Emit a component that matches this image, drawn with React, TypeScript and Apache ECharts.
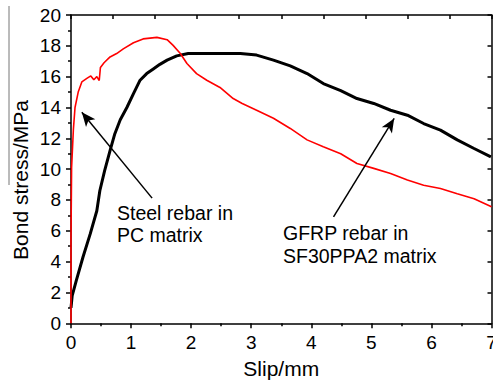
import React, { useEffect, useRef } from "react";
import * as echarts from "echarts";

const xTicks = [0, 1, 2, 3, 4, 5, 6, 7];
const yTicks = [0, 2, 4, 6, 8, 10, 12, 14, 16, 18, 20];

const steelSlip = [0, 0, 0.01, 0.04, 0.067, 0.12, 0.18, 0.27, 0.33, 0.38, 0.43, 0.47, 0.49, 0.55, 0.65, 0.76, 0.87, 1.04, 1.2, 1.43, 1.6, 1.7, 1.82, 1.93, 2.09, 2.26, 2.48, 2.7, 2.85, 3.09, 3.37, 3.65, 3.93, 4.2, 4.49, 4.76, 5.04, 5.32, 5.6, 5.87, 6.15, 6.43, 6.71, 7.0];
const steelStress = [0, 5.5, 10.1, 12.6, 14.0, 15.0, 15.66, 15.9, 16.05, 15.8, 16.0, 15.75, 16.6, 16.9, 17.28, 17.5, 17.8, 18.2, 18.45, 18.55, 18.4, 18.03, 17.5, 16.85, 16.2, 15.77, 15.3, 14.58, 14.26, 13.82, 13.3, 12.64, 11.9, 11.45, 11.0, 10.37, 10.05, 9.72, 9.29, 8.96, 8.75, 8.4, 8.08, 7.56];

const gfrpSlip = [0, 0.02, 0.09, 0.2, 0.32, 0.43, 0.48, 0.56, 0.65, 0.73, 0.82, 0.93, 1.04, 1.15, 1.26, 1.37, 1.48, 1.6, 1.76, 1.95, 2.15, 2.5, 2.82, 3.09, 3.37, 3.65, 3.93, 4.2, 4.49, 4.76, 5.04, 5.32, 5.6, 5.87, 6.15, 6.43, 6.71, 6.99];
const gfrpStress = [1.0, 1.8, 2.8, 4.3, 5.8, 7.3, 8.6, 9.9, 11.2, 12.3, 13.2, 14.0, 14.9, 15.77, 16.2, 16.5, 16.8, 17.07, 17.35, 17.5, 17.5, 17.5, 17.5, 17.4, 17.07, 16.7, 16.2, 15.55, 15.1, 14.58, 14.26, 13.82, 13.5, 12.96, 12.53, 11.9, 11.34, 10.8];

const steelLabel = "Steel rebar in\nPC matrix";
const gfrpLabel = "GFRP rebar in\nSF30PPA2 matrix";
const steelArrow = [[1.35, 8.12], [0.18, 13.69]];
const gfrpArrow = [[4.37, 6.91], [5.38, 13.29]];

const FONT = "'Liberation Sans', Arial, sans-serif";

export default function App() {
  const ref = useRef<HTMLDivElement>(null);
  useEffect(() => {
    if (!ref.current) return;
    const chart = echarts.init(ref.current, null, { renderer: "svg" });
    const steel = steelSlip.map((x, i) => [x, steelStress[i]]);
    const gfrp = gfrpSlip.map((x, i) => [x, gfrpStress[i]]);
    const axisLine = { show: true, onZero: false, lineStyle: { color: "#000", width: 1.5 } };
    chart.setOption({
      animation: false,
      backgroundColor: "#fff",
      grid: { left: 71, right: 1.5, top: 15, bottom: 62.7, containLabel: false, outerBoundsMode: "none" },
      xAxis: [
        {
          type: "value",
          position: "bottom",
          min: 0,
          max: 7,
          interval: 1,
          axisLine,
          axisTick: { show: true, inside: false, length: 5, lineStyle: { color: "#000", width: 1.5 } },
          minorTick: { show: true, splitNumber: 2, length: 3, lineStyle: { color: "#000", width: 1.5 } },
          splitLine: { show: false },
          axisLabel: {
            color: "#000",
            fontSize: 19,
            fontFamily: FONT,
            margin: 10,
            alignMinLabel: "center",
            alignMaxLabel: "center",
            formatter: (v: number) => (xTicks.includes(v) ? String(v) : ""),
          },
          name: "Slip/mm",
          nameLocation: "middle",
          nameGap: 35,
          nameTextStyle: { color: "#000", fontSize: 21, fontFamily: FONT },
        },
        {
          type: "value",
          position: "top",
          min: 0,
          max: 10,
          interval: 1,
          axisLine,
          axisTick: { show: true, inside: true, length: 4, lineStyle: { color: "#000", width: 1.5 } },
          axisLabel: { show: false },
          splitLine: { show: false },
        },
      ],
      yAxis: [
        {
          type: "value",
          position: "left",
          min: 0,
          max: 20,
          interval: 2,
          axisLine,
          axisTick: { show: true, inside: false, length: 5, lineStyle: { color: "#000", width: 1.5 } },
          minorTick: { show: true, splitNumber: 2, length: 3, lineStyle: { color: "#000", width: 1.5 } },
          splitLine: { show: false },
          axisLabel: {
            color: "#000",
            fontSize: 19,
            fontFamily: FONT,
            margin: 10,
            formatter: (v: number) => (yTicks.includes(v) ? String(v) : ""),
          },
        },
        {
          type: "value",
          position: "right",
          min: 0,
          max: 20,
          interval: 2,
          axisLine,
          axisTick: { show: true, inside: true, length: 4, lineStyle: { color: "#000", width: 1.5 } },
          axisLabel: { show: false },
          splitLine: { show: false },
        },
      ],
      series: [
        {
          name: "Steel rebar in PC matrix",
          type: "line",
          xAxisIndex: 0,
          yAxisIndex: 0,
          data: steel,
          showSymbol: false,
          symbol: "none",
          lineStyle: { color: "#ff0000", width: 1.6 },
          z: 3,
          markLine: {
            silent: true,
            symbol: ["none", "arrow"],
            symbolSize: [9, 14],
            label: { show: false },
            lineStyle: { color: "#000", width: 1.5, type: "solid" },
            data: [[{ coord: steelArrow[0] }, { coord: steelArrow[1] }]],
          },
        },
        {
          name: "GFRP rebar in SF30PPA2 matrix",
          type: "line",
          xAxisIndex: 0,
          yAxisIndex: 0,
          data: gfrp,
          showSymbol: false,
          symbol: "none",
          lineStyle: { color: "#000", width: 3 },
          z: 2,
          markLine: {
            silent: true,
            symbol: ["none", "arrow"],
            symbolSize: [9, 14],
            label: { show: false },
            lineStyle: { color: "#000", width: 1.5, type: "solid" },
            data: [[{ coord: gfrpArrow[0] }, { coord: gfrpArrow[1] }]],
          },
        },
      ],
      graphic: [
        {
          type: "line",
          shape: { x1: 9, y1: 6, x2: 9, y2: 185 },
          style: { stroke: "#777", lineWidth: 1 },
        },
        {
          type: "text",
          x: 20,
          y: 180,
          rotation: Math.PI / 2,
          style: {
            text: "Bond stress/MPa",
            fill: "#000",
            font: `21px ${FONT}`,
            textAlign: "center",
            textVerticalAlign: "middle",
          },
        },
        {
          type: "text",
          left: 117,
          top: 202,
          style: { text: steelLabel, fill: "#000", font: `19.5px ${FONT}`, lineHeight: 22 },
        },
        {
          type: "text",
          left: 283,
          top: 221,
          style: { text: gfrpLabel, fill: "#000", font: `19.5px ${FONT}`, lineHeight: 23 },
        },
      ],
    });
    return () => chart.dispose();
  }, []);
  return (
    <div
      ref={ref}
      style={{ position: "fixed", left: 0, top: 0, width: 493, height: 386, background: "#fff" }}
    />
  );
}
